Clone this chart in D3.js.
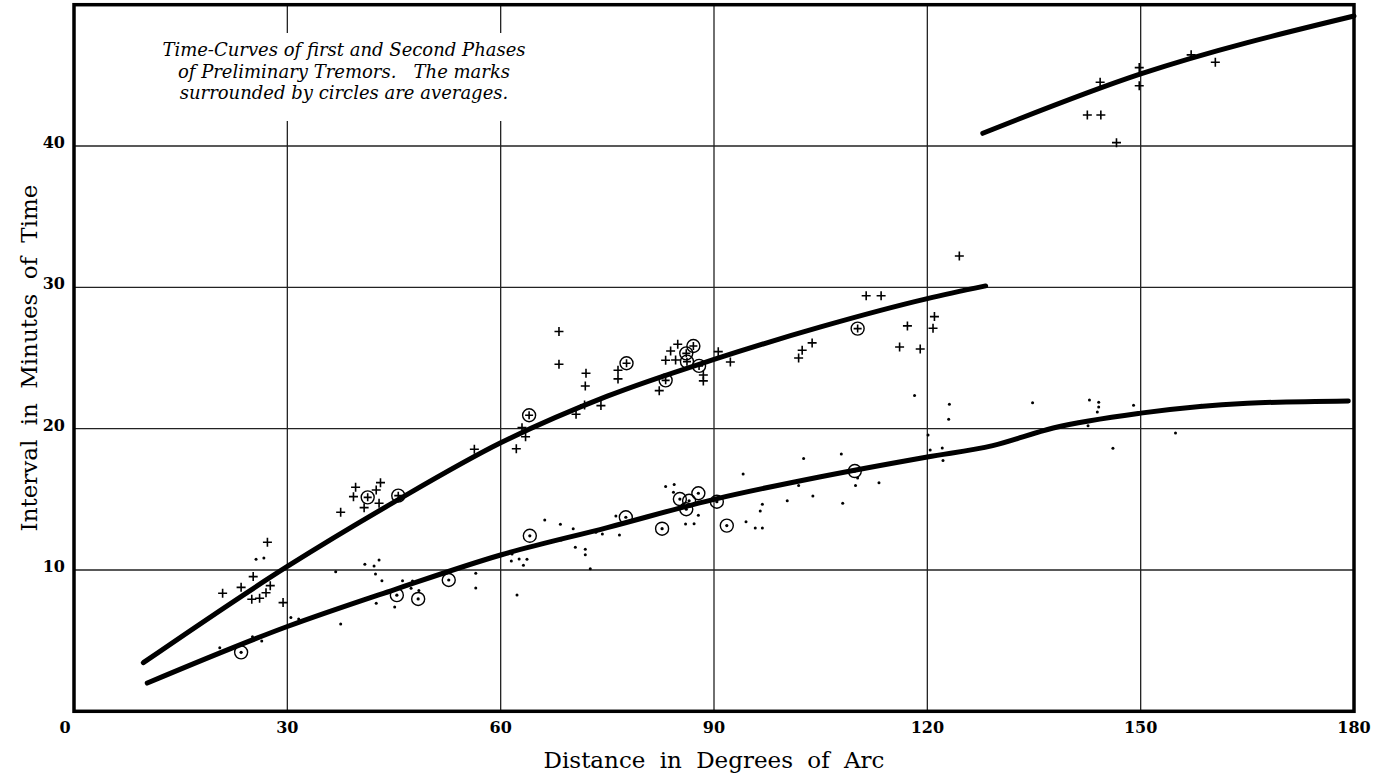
<!DOCTYPE html>
<html>
<head>
<meta charset="utf-8">
<script src="https://cdn.jsdelivr.net/npm/d3@7"></script>
<style>
body{margin:0;background:#fff;}
svg{display:block;}
.grid{stroke:#222;stroke-width:1.3;}
.frame{fill:none;stroke:#000;stroke-width:3.5;}
.curve{fill:none;stroke:#000;stroke-width:5;stroke-linecap:round;}
.tick{font-family:"DejaVu Serif",serif;font-weight:bold;font-size:16px;fill:#000;}
.title{font-family:"DejaVu Serif",serif;font-size:23px;fill:#000;word-spacing:7px;}
.note{font-family:"DejaVu Serif",serif;font-style:italic;font-size:18px;fill:#000;}
</style>
</head>
<body>
<div id="chart"></div>
<script>
var w = 1382;
var h = 777;

// axis ticks
var xTicks = [0, 30, 60, 90, 120, 150, 180];
var yTicks = [10, 20, 30, 40];

// smooth time-curves (degrees, minutes)
var curveFirst = [[9.75,3.44],[30,10.25],[45,14.8],[60,19.0],[75,22.3],[90,24.9],[105,27.2],[120,29.2],[128.2,30.1]];
var curveFirstFar = [[127.8,40.9],[150,45.1],[180,49.2]];
var curveSecond = [[10.3,2.0],[30,6.0],[45,8.6],[60,11.06],[75,13.0],[90,15.0],[105,16.6],[120,18.0],[129.2,18.8],[137.7,20.05],[150,21.1],[165,21.8],[179.2,21.96]];

// first phase observations (+)
var firstObs = [[20.9,8.35],[23.5,8.77],[25.2,9.53],[25.0,7.93],[26.1,8.0],[27.0,8.39],[27.6,8.89],[27.2,11.96],[29.4,7.69],
 [37.5,14.08],[39.3,15.19],[39.6,15.85],[40.8,14.41],[42.5,15.66],[43.1,16.18],[42.9,14.72],[56.3,18.54],
 [62.2,18.58],[63.0,20.07],[63.5,19.43],
 [68.2,26.87],[68.2,24.56],[72.0,23.92],[71.9,23.02],[71.8,21.68],[70.6,21.02],[74.1,21.63],[76.5,24.13],[76.5,23.52],
 [82.3,22.69],[83.2,24.84],[83.9,25.5],[84.9,25.97],[84.6,24.86],[88.5,23.8],[88.5,23.38],[90.6,25.45],[92.3,24.72],
 [101.9,25.0],[102.4,25.55],[103.8,26.07],[111.4,29.41],[113.5,29.41],[116.1,25.78],[117.2,27.27],[119.0,25.64],[120.8,27.1],[121.0,27.93],[124.5,32.22],
 [142.5,42.2],[144.4,42.2],[144.3,44.51],[146.6,40.24],[149.8,45.55],[149.8,44.27],[157.1,46.45],[160.5,45.93]];
// first phase averages (circled +)
var firstAvg = [[41.3,15.14],[45.6,15.26],[64.0,20.95],[77.7,24.63],[83.2,23.42],[86.1,25.33],[87.1,25.85],[86.2,24.74],[87.9,24.44],[110.2,27.08]];

// second phase observations (dots)
var secondObs = [[20.5,4.5],[25.1,5.28],[26.4,4.98],[25.6,10.76],[26.7,10.85],[30.5,6.63],[31.6,6.53],[37.5,6.18],[36.8,9.88],
 [40.9,10.4],[42.2,10.28],[42.9,10.71],[42.4,9.72],[43.3,9.24],[46.2,9.24],[47.6,9.22],[47.4,8.7],[48.5,8.54],[42.5,7.64],[45.1,7.38],
 [56.5,9.77],[56.5,8.73],[61.6,11.13],[61.5,10.64],[62.6,10.78],[63.7,10.76],[63.2,10.33],[62.3,8.23],[66.2,13.54],
 [68.4,13.23],[70.2,12.92],[68.5,12.12],[70.5,11.6],[71.9,11.46],[71.9,11.08],[72.6,10.09],[73.4,12.67],[74.3,12.55],[76.2,13.82],[76.7,12.48],
 [83.2,15.9],[84.4,16.04],[84.3,15.5],[86.0,13.26],[87.2,13.28],[87.8,13.87],[94.1,16.8],[94.5,13.42],[95.8,12.97],[96.8,12.97],[96.5,14.18],[96.8,14.65],
 [100.3,14.9],[101.9,15.97],[102.6,17.88],[103.9,15.24],[107.9,18.21],[108.1,14.72],[109.9,15.97],[110.2,16.51],[113.2,16.18],
 [118.2,22.34],[120.1,19.55],[120.4,18.49],[122.1,18.63],[122.2,17.74],[123.1,21.72],[123.0,20.66],
 [134.8,21.84],[142.6,20.21],[142.8,22.03],[143.9,21.18],[144.1,21.54],[144.1,21.87],[146.1,18.61],[149.0,21.66],[154.9,19.7],[158.5,21.66]];
// second phase averages (circled dots)
var secondAvg = [[23.5,4.17],[45.4,8.22],[48.4,7.95],[52.7,9.29],[64.1,12.42],[77.6,13.73],[82.7,12.92],[85.2,15.02],[86.5,14.9],[86.1,14.3],[87.8,15.43],[90.4,14.83],[91.8,13.14],[109.8,17.0]];

var noteLines = ["Time-Curves of first and Second Phases", "of Preliminary Tremors.   The marks", "surrounded by circles are averages."];

var xScale = d3.scaleLinear().domain([0, 180]).range([74, 1354]);
var yScale = d3.scaleLinear().domain([0, 50]).range([711.3, 4.7]);

var svg = d3.select("#chart").append("svg")
  .attr("width", w)
  .attr("height", h);

//grid
svg.selectAll(".vgrid")
  .data(xTicks.slice(1, -1))
  .enter().append("line")
  .attr("class", "grid")
  .attr("x1", function(d){ return xScale(d); })
  .attr("x2", function(d){ return xScale(d); })
  .attr("y1", yScale(50))
  .attr("y2", yScale(0));

svg.selectAll(".hgrid")
  .data(yTicks)
  .enter().append("line")
  .attr("class", "grid")
  .attr("x1", xScale(0))
  .attr("x2", xScale(180))
  .attr("y1", function(d){ return yScale(d); })
  .attr("y2", function(d){ return yScale(d); });

// white patch behind the note (grid lines are broken there)
svg.append("rect")
  .attr("x", 150).attr("y", 33)
  .attr("width", 390).attr("height", 88)
  .attr("fill", "#fff");

svg.selectAll(".note")
  .data(noteLines)
  .enter().append("text")
  .attr("class", "note")
  .attr("x", 344)
  .attr("y", function(d, i){ return 56 + i*21.5; })
  .attr("text-anchor", "middle")
  .attr("xml:space", "preserve")
  .text(function(d){ return d; });

svg.append("rect")
  .attr("class", "frame")
  .attr("x", xScale(0))
  .attr("y", yScale(50))
  .attr("width", xScale(180) - xScale(0))
  .attr("height", yScale(0) - yScale(50));

//tick labels
svg.selectAll(".xt")
  .data(xTicks)
  .enter().append("text")
  .attr("class", "tick")
  .attr("x", function(d){ return xScale(d) + (d === 0 ? -9 : 0); })
  .attr("y", 733)
  .attr("text-anchor", "middle")
  .text(function(d){ return d; });

svg.selectAll(".yt")
  .data(yTicks)
  .enter().append("text")
  .attr("class", "tick")
  .attr("x", 65)
  .attr("y", function(d){ return yScale(d) + 2; })
  .attr("text-anchor", "end")
  .text(function(d){ return d; });

svg.append("text")
  .attr("class", "title")
  .attr("x", 714)
  .attr("y", 768)
  .attr("text-anchor", "middle")
  .text("Distance in Degrees of Arc");

svg.append("text")
  .attr("class", "title")
  .attr("transform", "translate(37,358) rotate(-90)")
  .attr("text-anchor", "middle")
  .text("Interval in Minutes of Time");

//curves
var line = d3.line()
  .x(function(d){ return xScale(d[0]); })
  .y(function(d){ return yScale(d[1]); })
  .curve(d3.curveMonotoneX);

[curveFirst, curveFirstFar, curveSecond].forEach(function(c){
  svg.append("path").datum(c).attr("class", "curve").attr("d", line);
});

//marks
function addCross(data, size){
  svg.append("g").selectAll("path")
    .data(data)
    .enter().append("path")
    .attr("d", function(d){
      var x = xScale(d[0]), y = yScale(d[1]);
      return "M" + (x - size) + "," + y + "H" + (x + size) + "M" + x + "," + (y - size) + "V" + (y + size);
    })
    .attr("stroke", "#000")
    .attr("stroke-width", 1.6);
}
function addDots(data, r){
  svg.append("g").selectAll("circle")
    .data(data)
    .enter().append("circle")
    .attr("cx", function(d){ return xScale(d[0]); })
    .attr("cy", function(d){ return yScale(d[1]); })
    .attr("r", r)
    .attr("fill", "#000");
}
function addRings(data){
  svg.append("g").selectAll("circle")
    .data(data)
    .enter().append("circle")
    .attr("cx", function(d){ return xScale(d[0]); })
    .attr("cy", function(d){ return yScale(d[1]); })
    .attr("r", 6.5)
    .attr("fill", "none")
    .attr("stroke", "#000")
    .attr("stroke-width", 1.4);
}

addCross(firstObs, 4.5);
addCross(firstAvg, 4);
addRings(firstAvg);
addDots(secondObs, 1.5);
addDots(secondAvg, 1.6);
addRings(secondAvg);
</script>
</body>
</html>
